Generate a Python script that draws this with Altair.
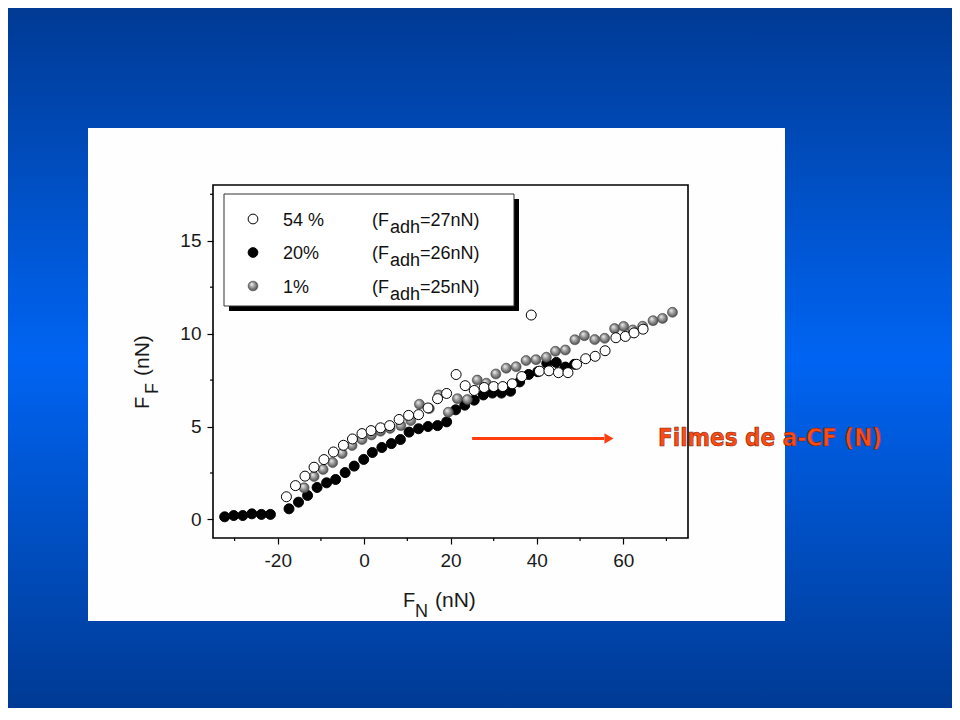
import altair as alt
import pandas as pd

# ---------------- data ----------------
series_names = ["54 %", "20%", "1%"]
fadh_values = [27, 26, 25]

x54 = [-18.0, -15.9, -13.7, -11.6, -9.3, -7.1, -4.8, -2.7, -0.5, 1.6,
       3.8, 5.9, 8.1, 10.3, 12.6, 14.8, 17.0, 19.1, 21.3, 23.4,
       25.5, 27.8, 30.0, 32.1, 34.3, 36.5, 38.7, 40.6, 42.8, 45.0,
       47.2, 49.2, 51.3, 53.5, 55.8, 58.3, 60.5, 62.5, 64.6]
y54 = [1.22, 1.82, 2.33, 2.81, 3.22, 3.63, 3.99, 4.33, 4.62, 4.78,
       4.93, 5.05, 5.38, 5.60, 5.64, 6.0, 6.5, 6.78, 7.8, 7.2,
       6.94, 7.1, 7.15, 7.15, 7.3, 7.69, 11.0, 7.98, 8.0, 7.9,
       7.9, 8.35, 8.65, 8.78, 9.08, 9.78, 9.85, 10.04, 10.24]

x20 = [-32.3, -30.2, -28.1, -26.0, -23.8, -21.7, -17.4, -15.2, -13.1, -10.9,
       -8.7, -6.6, -4.4, -2.3, -0.1, 1.9, 4.1, 6.3, 8.4, 10.4,
       12.6, 14.8, 17.0, 19.1, 21.2, 23.3, 25.5, 27.6, 29.7, 31.8,
       33.9, 36.0, 38.1, 40.2, 42.3, 44.5, 46.6, 48.7]
y20 = [0.14, 0.21, 0.21, 0.30, 0.27, 0.27, 0.57, 0.93, 1.29, 1.72,
       1.97, 2.15, 2.52, 2.87, 3.23, 3.6, 3.87, 4.08, 4.3, 4.7,
       4.88, 5.0, 5.05, 5.25, 5.9, 6.15, 6.42, 6.7, 6.8, 6.8,
       6.9, 7.4, 7.8, 7.95, 8.4, 8.45, 8.2, 8.35]

x1 = [-13.9, -11.6, -9.5, -7.3, -5.1, -2.8, -0.5, 1.7, 3.8, 6.0,
      8.5, 10.8, 12.8, 15.1, 17.3, 19.5, 21.6, 23.9, 26.2, 28.3,
      30.5, 32.9, 35.2, 37.5, 39.8, 42.2, 44.3, 46.6, 48.8, 51.0,
      53.4, 55.7, 58.0, 60.1, 62.2, 64.5, 66.9, 69.1, 71.4]
y1 = [1.70, 2.31, 2.69, 3.06, 3.55, 3.98, 4.30, 4.55, 4.75, 4.9,
      5.05, 5.32, 6.2, 5.97, 6.7, 5.77, 6.5, 6.45, 7.5, 7.33,
      7.83, 8.14, 8.22, 8.55, 8.6, 8.73, 9.05, 9.12, 9.67, 9.89,
      9.68, 9.75, 10.27, 10.39, 10.2, 10.4, 10.7, 10.82, 11.15]

x_major = [-20, 0, 20, 40, 60]
x_minor = [-30, -10, 10, 30, 50, 70]
y_major = [0, 5, 10, 15]
y_minor = [2.5, 7.5, 12.5, 17.5]

arrow_x = [25.0, 55.6]
arrow_y = 4.35
annotation = "Filmes de a-CF (N)"

# ---------------- layout ----------------
W, H = 475, 353
PL, PT, PR, PB = 205, 177, 264, 170

xs = alt.Scale(domain=[-35, 75], nice=False, zero=False)
ys = alt.Scale(domain=[-1, 18], nice=False, zero=False)

label_font = "Liberation Sans"
x_axis = alt.Axis(
    values=x_major, title=None, domain=False, grid=False, tickSize=6,
    tickColor="black", tickWidth=1.2, labelFont=label_font, labelFontSize=19,
    labelColor="#1a1a1a", labelPadding=7, zindex=2,
    labelExpr="'' + datum.value")
y_axis = alt.Axis(
    values=y_major, title=None, domain=False, grid=False, tickSize=6,
    tickColor="black", tickWidth=1.2, labelFont=label_font, labelFontSize=19,
    labelColor="#1a1a1a", labelPadding=6, zindex=2,
    labelExpr="'' + datum.value")


def X(f):
    return alt.X(f, scale=xs, axis=x_axis)


def Y(f):
    return alt.Y(f, scale=ys, axis=y_axis)


one = pd.DataFrame({"a": [0]})

df = pd.concat([
    pd.DataFrame({"x": x54, "y": y54, "s": series_names[0]}),
    pd.DataFrame({"x": x20, "y": y20, "s": series_names[1]}),
    pd.DataFrame({"x": x1, "y": y1, "s": series_names[2]}),
])

gray_fill = alt.RadialGradient(
    gradient="radial", x1=0.35, y1=0.3, r1=0, x2=0.5, y2=0.5, r2=0.6,
    stops=[alt.GradientStop(offset=0, color="#f6f6f6"),
           alt.GradientStop(offset=0.45, color="#9a9a9a"),
           alt.GradientStop(offset=1, color="#383838")])

styles = {
    series_names[0]: dict(fill="white", stroke="black", strokeWidth=1),
    series_names[1]: dict(fill="black", stroke="black", strokeWidth=1),
    series_names[2]: dict(fill=gray_fill, stroke="#444444", strokeWidth=0.6),
}

# background
bg = alt.Chart(one).mark_rect(
    fill=alt.LinearGradient(
        gradient="linear", x1=0, y1=0, x2=0, y2=1,
        stops=[alt.GradientStop(offset=0, color="#003a94"),
               alt.GradientStop(offset=0.5, color="#0064f2"),
               alt.GradientStop(offset=1, color="#003a94")])
).encode(x=alt.value(-PL), x2=alt.value(W + PR), y=alt.value(-PT), y2=alt.value(H + PB))

panel = alt.Chart(one).mark_rect(fill="#fefefe").encode(
    x=alt.value(-125), x2=alt.value(572), y=alt.value(-57), y2=alt.value(436))

layers = [bg, panel]
order = [series_names[1], series_names[2], series_names[0]]
for name in order:
    st = styles[name]
    layers.append(alt.Chart(df).transform_filter(alt.datum.s == name).mark_circle(
        size=100, opacity=1, **st).encode(x=X("x:Q"), y=Y("y:Q")))

# minor ticks
xminor = alt.Chart(pd.DataFrame({"x": x_minor})).mark_rule(color="black", strokeWidth=1.2).encode(
    x=X("x:Q"), y=alt.value(H), y2=alt.value(H + 3))
yminor = alt.Chart(pd.DataFrame({"y": y_minor})).mark_rule(color="black", strokeWidth=1.2).encode(
    y=Y("y:Q"), x=alt.value(-3), x2=alt.value(0))
layers += [xminor, yminor]

# frame
frame = alt.Chart(one).mark_rect(fillOpacity=0, stroke="black", strokeWidth=1.6).encode(
    x=alt.value(0), x2=alt.value(W), y=alt.value(0), y2=alt.value(H))
layers.append(frame)

# legend box with shadow
shadow = alt.Chart(one).mark_rect(fill="black").encode(
    x=alt.value(16), x2=alt.value(306), y=alt.value(14), y2=alt.value(126))
box = alt.Chart(one).mark_rect(fill="white", stroke="#333333", strokeWidth=1).encode(
    x=alt.value(11), x2=alt.value(301), y=alt.value(9), y2=alt.value(121))
layers += [shadow, box]

leg = pd.DataFrame({
    "s": series_names,
    "fadh": ["=%dnN)" % v for v in fadh_values],
    "row": list(range(len(series_names))),
})
leg["py"] = 34 + 33.5 * leg["row"]
leg["pyb"] = leg["py"] + 6.5
leg["pys"] = leg["py"] + 13.5
leg["px_sym"] = 40
leg["px_lab"] = 70
leg["px_f"] = 159
leg["px_sub"] = 177
leg["px_eq"] = 207
leg["fopen"] = "(F"
leg["sub"] = "adh"

for name in series_names:
    st = styles[name]
    layers.append(alt.Chart(leg).transform_filter(alt.datum.s == name).mark_circle(
        size=95, opacity=1, **st).encode(
        x=alt.X("px_sym:Q", scale=None), y=alt.Y("py:Q", scale=None)))

tcommon = dict(font=label_font, fontSize=18, color="#111111", align="left", baseline="alphabetic")
for txt_field, xf, yf in [("s", "px_lab", "pyb"), ("fopen", "px_f", "pyb"),
                          ("sub", "px_sub", "pys"), ("fadh", "px_eq", "pyb")]:
    layers.append(alt.Chart(leg).mark_text(**tcommon).encode(
        x=alt.X(xf + ":Q", scale=None), y=alt.Y(yf + ":Q", scale=None),
        text=txt_field + ":N"))


# axis titles with subscripts
def txt(s, x, y, size, angle=0):
    kw = dict(text=s, font=label_font, fontSize=size, color="#1a1a1a",
              align="left", baseline="alphabetic")
    if angle:
        kw["angle"] = angle
    return alt.Chart(one).mark_text(**kw).encode(x=alt.value(x), y=alt.value(y))


layers += [
    txt("F", 190, 422, 20), txt("N", 202, 432, 18), txt("(nN)", 222, 422, 21),
    txt("F", -64, 224, 20, 270), txt("F", -55, 209, 18, 270), txt("(nN)", -64, 191, 21, 270),
]

# arrow + annotation
arr = alt.Chart(pd.DataFrame({"x": [arrow_x[0]], "x2": [arrow_x[1]], "y": [arrow_y]})).mark_rule(
    color="#ff3d0f", strokeWidth=3).encode(x=X("x:Q"), x2="x2:Q", y=Y("y:Q"))
head = alt.Chart(pd.DataFrame({"x": [arrow_x[1] + 1.1], "y": [arrow_y]})).mark_point(
    shape="triangle-right", filled=True, size=110, color="#ff3d0f", opacity=1).encode(
    x=X("x:Q"), y=Y("y:Q"))
ann = alt.Chart(one).mark_text(
    text=annotation, font="DejaVu Sans Condensed", fontWeight="bold", fontSize=24,
    fill="#ff4a14", stroke="#6a1c00", strokeWidth=0.6, strokeOpacity=0.9,
    align="left", baseline="alphabetic").encode(
    x=alt.value(445), y=alt.value(261))
layers += [arr, head, ann]

chart = alt.layer(*layers).properties(
    width=W, height=H,
    autosize=alt.AutoSizeParams(type="none"),
    padding={"left": PL, "top": PT, "right": PR, "bottom": PB},
).configure(background="#0050c8").configure_view(strokeWidth=0)

chart.save("out.html", embed_options={"renderer": "svg", "actions": False})
